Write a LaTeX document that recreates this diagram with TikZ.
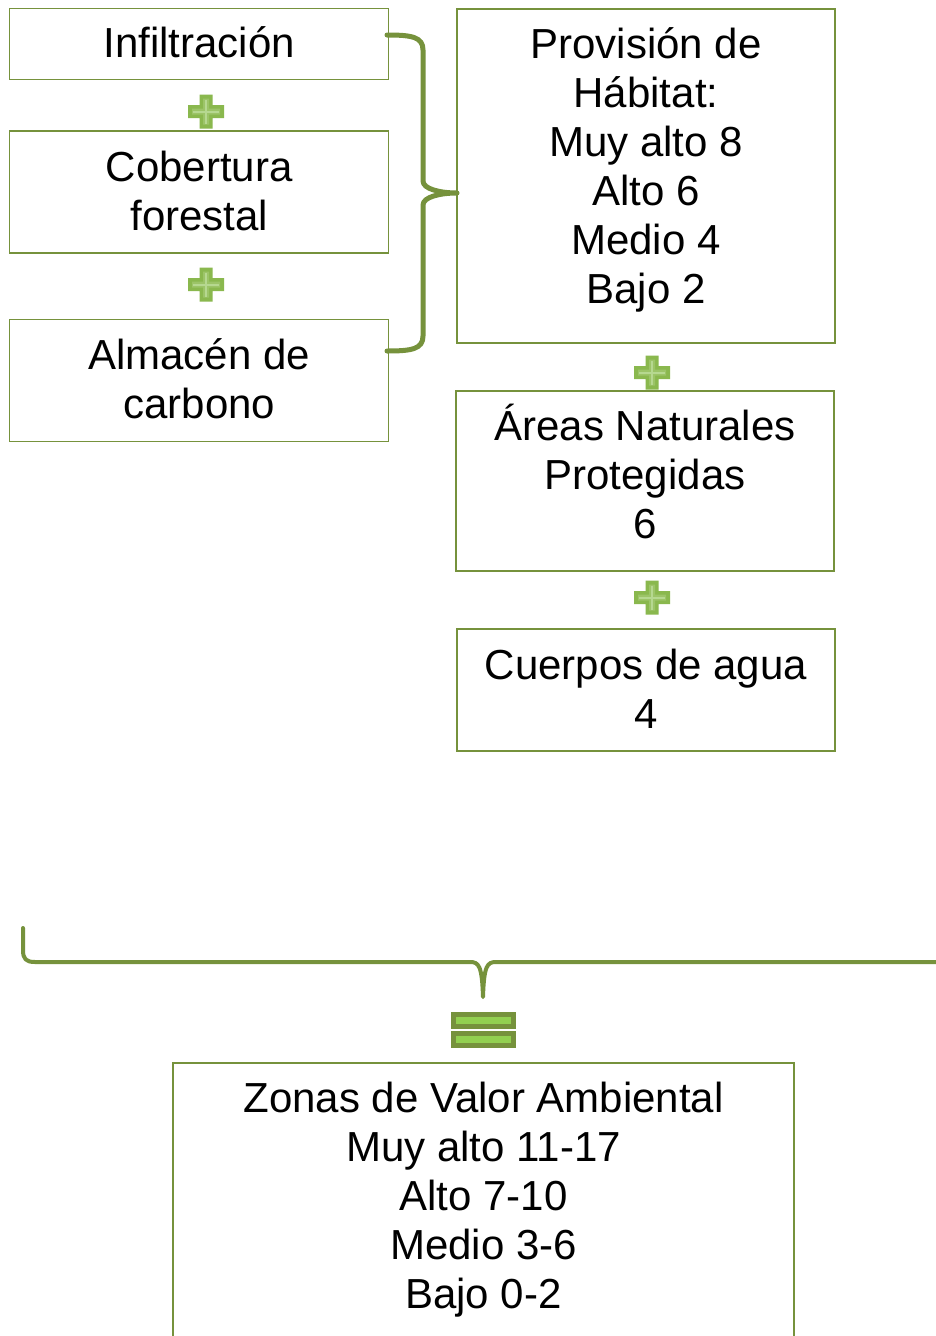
\documentclass[tikz,border=0pt]{standalone}
\usepackage{fontspec}
\setmainfont{Liberation Sans}
\definecolor{boxgreen}{RGB}{118,146,60}
\definecolor{plusgreen}{RGB}{138,184,78}
\definecolor{plusmid}{RGB}{156,196,104}
\definecolor{pluslight}{RGB}{182,216,144}
\definecolor{eqlight}{RGB}{146,208,80}
\newcommand\bigf{\fontsize{42pt}{49pt}\selectfont}
\newcommand\ms{\rule[-11pt]{0pt}{49pt}}
\tikzset{
  box/.style={draw=boxgreen, line width=1.5pt, inner sep=0pt, align=center, font=\bigf, text=black},
  txt/.style={inner sep=0pt, align=center, font=\bigf, text=black},
  brace/.style={draw=boxgreen, line width=5pt, line cap=round, line join=round},
  eqbar/.style={draw=boxgreen, fill=eqlight, line width=5pt, inner sep=0pt, minimum width=60pt, minimum height=12pt},
  plussign/.pic={
    \fill[plusgreen] (-18,-6.5) -- (-6.5,-6.5) -- (-6.5,-17) -- (6.5,-17) -- (6.5,-6.5) -- (18,-6.5)
      -- (18,6.5) -- (6.5,6.5) -- (6.5,17) -- (-6.5,17) -- (-6.5,6.5) -- (-18,6.5) -- cycle;
    \fill[plusmid] (-14,-3) -- (-3,-3) -- (-3,-13) -- (3,-13) -- (3,-3) -- (14,-3)
      -- (14,3) -- (3,3) -- (3,13) -- (-3,13) -- (-3,3) -- (-14,3) -- cycle;
    \draw[pluslight, line width=2pt] (-13,0) -- (13,0) (0,-12) -- (0,12);
  }
}
\begin{document}
\begin{tikzpicture}[x=1pt, y=-1pt]
\clip (0,0) rectangle (936,1336);
\fill[white] (0,0) rectangle (936,1336);

% left column
\node[box, minimum width=379pt, minimum height=71pt] (infil) at (199.2,44.2) {\ms Infiltración};
\node[box, minimum width=379pt, minimum height=122pt] (cober) at (199.2,192) {\ms Cobertura\\\ms forestal};
\node[box, minimum width=379pt, minimum height=122pt] (almac) at (199.2,380.5) {\ms Almacén de\\\ms carbono};

% right column
\node[box, minimum width=378pt, minimum height=334pt] (provis) at (646,176) {\ms Provisión de\\\ms Hábitat:\\\ms Muy alto 8\\\ms Alto 6\\\ms Medio 4\\\rule[-28pt]{0pt}{66pt}Bajo 2};
\node[box, minimum width=378pt, minimum height=180pt] (areas) at (645,481) {\ms Áreas Naturales\\\ms Protegidas\\\rule[-21pt]{0pt}{59pt}6};
\node[box, minimum width=378pt, minimum height=122pt] (cuerpos) at (646,690) {\ms Cuerpos de agua\\\ms 4};

% plus signs
\pic at (206,111.5) {plussign};
\pic at (206,284.5) {plussign};
\pic at (652,372.5) {plussign};
\pic at (652,597.5) {plussign};

% top brace
\coordinate (bt) at (387,35);
\coordinate (bb) at (387,351);
\coordinate (bm) at (457,193);
\draw[brace] (bt) .. controls (412,35) and (423,37) .. (423,50) -- (423,181)
  .. controls (423,189) and (440,193) .. (bm)
  .. controls (440,193) and (423,197) .. (423,205) -- (423,336)
  .. controls (423,349) and (412,351) .. (bb);

% bottom brace
\coordinate (cl) at (23,928);
\coordinate (cm) at (483,997);
\coordinate (cr) at (960,962);
\draw[brace, line width=4pt] (cl) -- (23,950) .. controls (23,959) and (26,962) .. (35,962) -- (470,962)
  .. controls (479,962) and (482,966) .. (cm)
  .. controls (484,966) and (487,962) .. (496,962) -- (cr);

% equals sign
\node[eqbar] (eqa) at (483.5,1020.5) {};
\node[eqbar] (eqb) at (483.5,1039) {};

% result box (cut at the bottom edge)
\node[txt, minimum width=621pt, anchor=north] (zonas) at (483.5,1074.4)
  {\ms Zonas de Valor Ambiental\\\ms Muy alto 11-17\\\ms Alto 7-10\\\ms Medio 3-6\\\ms Bajo 0-2};
\draw[draw=boxgreen, line width=1.5pt] ([yshift=-40pt]zonas.south west) |- ([yshift=11.4pt]zonas.north east) -- ([yshift=-40pt]zonas.south east);
\end{tikzpicture}
\end{document}
